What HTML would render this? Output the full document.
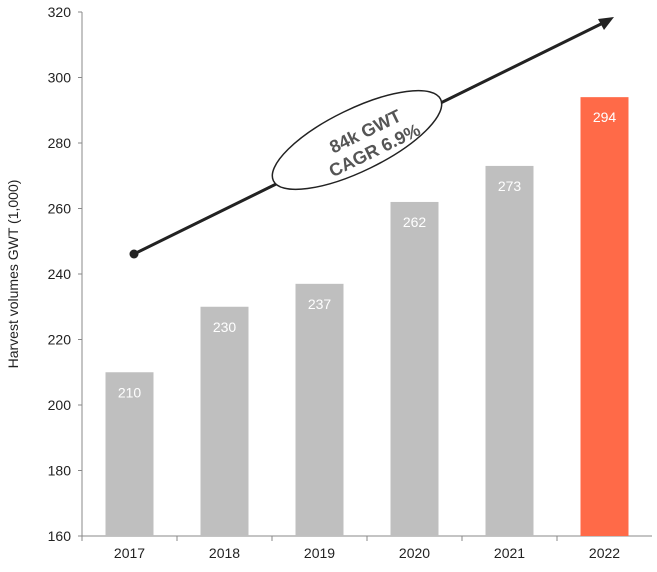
<!DOCTYPE html>
<html><head><meta charset="utf-8"><style>
body{margin:0;background:#fff}
svg{display:block;font-family:"Liberation Sans",sans-serif}
</style></head><body>
<svg id="chart" width="657" height="572" viewBox="0 0 657 572" xmlns="http://www.w3.org/2000/svg">
<g id="axes"></g><g id="bars"></g>
<g id="annot">
<line x1="134" y1="254" x2="605" y2="22" stroke="#222" stroke-width="3"/>
<polygon points="614,17 598,19 604,30" fill="#222"/>
<circle cx="134" cy="254" r="4.5" fill="#222"/>
<ellipse cx="357" cy="140" rx="93" ry="31" transform="rotate(-26 357 140)" fill="#fff" stroke="#222" stroke-width="1.5"/>
<g transform="rotate(-26 372 145)">
<text x="372" y="136" text-anchor="middle" font-size="18" font-weight="bold" fill="#555">84k GWT</text>
<text x="372" y="157" text-anchor="middle" font-size="18" font-weight="bold" fill="#555">CAGR 6.9%</text>
</g>
</g>
</svg>
<script>
const categories=["2017","2018","2019","2020","2021","2022"];
const values=[210,230,237,262,273,294];
const yTicks=[160,180,200,220,240,260,280,300,320];
const NS="http://www.w3.org/2000/svg";
const x0=82,x1=652,yBase=536,yTop=12,yMin=160,yMax=320;
const bw=95;
function y(v){return yBase-(v-yMin)/(yMax-yMin)*(yBase-yTop);}
function xc(i){return x0+bw*(i+0.5);}
function mk(tag,attrs,parent){const e=document.createElementNS(NS,tag);for(const k in attrs)e.setAttribute(k,attrs[k]);parent.appendChild(e);return e;}
const ax=document.getElementById('axes'),bg=document.getElementById('bars');
let l=mk('line',{x1:x0,y1:yTop,x2:x0,y2:yBase,stroke:'#888','stroke-width':1},ax);


l=mk('line',{x1:x0,y1:yBase,x2:x1,y2:yBase,stroke:'#888','stroke-width':1},ax);


yTicks.forEach(v=>{
 const t=mk('line',{x1:x0-4,y1:y(v),x2:x0,y2:y(v),stroke:'#888'},ax);
 
 
 const tx=mk('text',{x:x0-11,y:y(v)+5,'text-anchor':'end','font-size':14,fill:'#222'},ax);
 tx.textContent=v;
 
 
});
const yt=mk('text',{x:0,y:0,transform:'translate(18 274) rotate(-90)','text-anchor':'middle','font-size':14,fill:'#222'},ax);
yt.textContent='Harvest volumes GWT (1,000)';


categories.forEach((c,i)=>{
 const t=mk('line',{x1:x0+bw*i,y1:yBase,x2:x0+bw*i,y2:yBase+5,stroke:'#888'},ax);
 
 
 const tx=mk('text',{x:xc(i),y:yBase+22,'text-anchor':'middle','font-size':14,fill:'#222'},ax);
 tx.textContent=c;
 
 
 const v=values[i];
 const r=mk('rect',{x:xc(i)-24,y:y(v),width:48,height:yBase-y(v),fill:i===categories.length-1?'#ff6a48':'#bfbfbf'},bg);
 
 
 const vl=mk('text',{x:xc(i),y:y(v)+25,'text-anchor':'middle','font-size':14,fill:'#fff'},bg);
 vl.textContent=v;
 
 
});
</script>
</body></html>
